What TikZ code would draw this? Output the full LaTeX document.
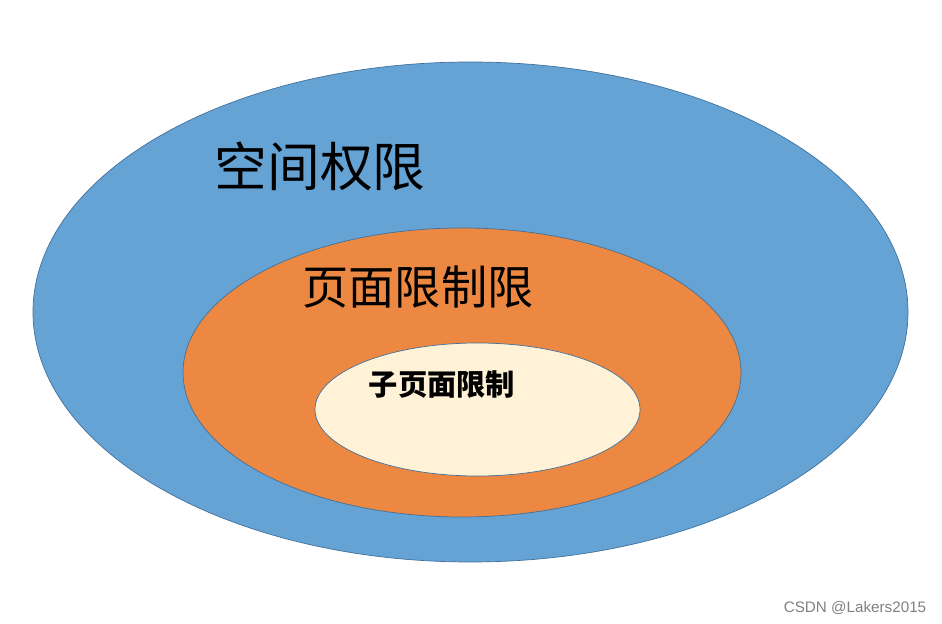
\documentclass[tikz,border=0pt]{standalone}
\usepackage{fontspec}
\usepackage{xcolor,tikz}
\newfontfamily\cjk{Noto Sans CJK SC}
\setsansfont{Liberation Sans}
\definecolor{ringblue}{RGB}{101,163,213}
\definecolor{ringorange}{RGB}{236,136,65}
\definecolor{ringcream}{RGB}{255,242,214}
\definecolor{rimline}{RGB}{65,113,156}
\tikzset{ring/.style={line width=0.6pt, draw=rimline}}

\begin{document}
\begin{tikzpicture}[scale=0.3]
\useasboundingbox (0,0) rectangle (94.2,62.4);
\draw[ring, fill=ringblue] (47.05,31.2) ellipse (43.75 and 25);
\draw[ring, fill=ringorange] (46.2,25.15) ellipse (27.9 and 14.45);
\draw[ring, fill=ringcream] (47.75,21.45) ellipse (16.25 and 6.65);
%%%%
\node (space) at (32.0,45.8) {\cjk\fontsize{45}{54}\selectfont 空间权限};
\node (page) at (41.8,33.7) {\cjk\fontsize{39.5}{47}\selectfont 页面限制限};
\node (subpage) at (44.2,23.9) {\cjk\bfseries\fontsize{25}{30}\selectfont 子页面限制};
%%%%
\node[text=gray] (credit) at (85.5,1.6) {\sffamily\fontsize{13}{15}\selectfont CSDN @Lakers2015};
\end{tikzpicture}
\end{document}
